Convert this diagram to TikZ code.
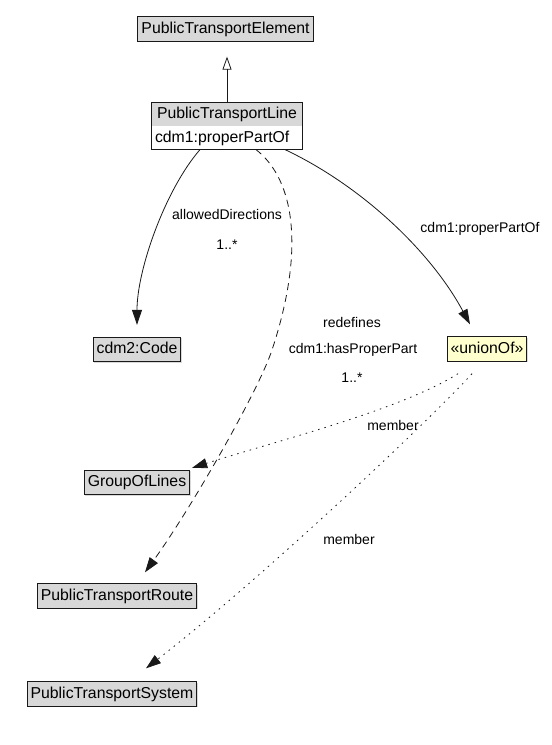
\documentclass[tikz,border=0pt]{standalone}
\usepackage{fontspec}
\setmainfont{Liberation Sans}
\usepackage{xcolor}
\usetikzlibrary{arrows.meta}
\usetikzlibrary{shadows}
\usetikzlibrary{positioning}

\definecolor{classgray}{RGB}{216,216,216}
\definecolor{unionyellow}{RGB}{255,255,206}
\definecolor{lineblack}{RGB}{25,25,25}

\begin{document}
\begin{tikzpicture}[x=1pt, y=1pt, >={Triangle[length=15pt,width=10pt]},
  cls/.style={draw=lineblack, line width=1pt, fill=classgray, inner xsep=3.5pt, inner ysep=4.6pt,
    text height=11.8pt, text depth=3.4pt, font=\fontsize{15.8}{18}\selectfont,
    drop shadow={shadow xshift=1pt, shadow yshift=-1pt, opacity=0.3}},
  clspart/.style={minimum width=150pt, inner xsep=2pt, inner ysep=3.9pt,
    text height=11.8pt, text depth=3.4pt, font=\fontsize{15.8}{18}\selectfont},
  union/.style={cls, fill=unionyellow},
  lbl/.style={font=\fontsize{14}{16}\selectfont, inner sep=1pt},
  assoc/.style={->, line width=0.8pt, draw=lineblack},
  redef/.style={dash pattern=on 7pt off 5pt},
  member/.style={dash pattern=on 1.5pt off 5pt}
]
\useasboundingbox (0,0) rectangle (552,-745);

%classes
\node[cls] (pte) at (225.5,-28.9) {PublicTransportElement};
\fill[black, opacity=0.3] (153,-104) rectangle (303,-150);
\node[clspart, fill=classgray] (ptl) at (227,-114.5) {PublicTransportLine};
\node[clspart, fill=white, below=0pt of ptl, align=left, text width=144pt] (ptlattr) {cdm1:properPartOf};
\draw[lineblack, line width=1pt] (ptl.north west) rectangle (ptlattr.south east);
\node[cls] (code) at (137,-349.5) {cdm2:Code};
\node[union] (union) at (487,-349) {«unionOf»};
\node[cls] (group) at (137,-482.5) {GroupOfLines};
\node[cls] (route) at (117,-596) {PublicTransportRoute};
\node[cls] (system) at (112,-694) {PublicTransportSystem};

%generalization
\draw[line width=0.8pt, draw=lineblack, -{Triangle[open,length=13pt,width=9pt]}]
  (ptl.north) -- ([yshift=-15pt]ptl.north |- pte.south);

%allowedDirections
\draw[assoc] ([xshift=-27pt]ptlattr.south) .. controls (165,-190) and (137,-270) .. ([yshift=12pt]code.north);
\node[lbl] (allowed) at (227,-214) {allowedDirections};
\node[lbl] (allowedmult) at (227,-245) {1..*};

%properPartOf
\draw[assoc] ([xshift=58pt]ptlattr.south) .. controls (360,-185) and (430,-250) .. ([xshift=-17pt,yshift=12pt]union.north);
\node[lbl] (partof) at (480,-229) {cdm1:properPartOf};

%hasProperPart
\coordinate (bend) at (272,-350);
\draw[assoc, redef] ([xshift=29pt]ptlattr.south) .. controls (295,-180) and (305,-250) .. (bend)
  .. controls (258,-392) and (190,-510) .. ([xshift=28pt,yshift=11pt]route.north);
\node[lbl] (redefines) at (352,-322) {redefines};
\node[lbl] (haspart) at (353,-350) {cdm1:hasProperPart};
\node[lbl] (haspartmult) at (352,-378) {1..*};

%members
\draw[assoc, member] ([xshift=-29pt,yshift=-12pt]union.south) .. controls (400,-410) and (280,-440) .. ([xshift=2pt,yshift=2pt]group.north east);
\node[lbl] (member1) at (393,-425) {member};
\draw[assoc, member] ([xshift=-15pt,yshift=-12pt]union.south) .. controls (430,-420) and (260,-580) .. ([xshift=34pt,yshift=13pt]system.north);
\node[lbl] (member2) at (349,-539) {member};
\end{tikzpicture}
\end{document}
